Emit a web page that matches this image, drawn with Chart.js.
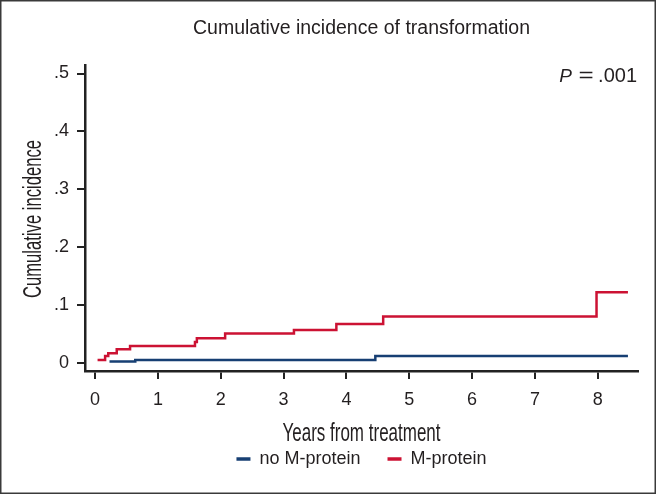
<!DOCTYPE html>
<html>
<head>
<meta charset="utf-8">
<script src="https://cdn.jsdelivr.net/npm/chart.js@4/dist/chart.umd.min.js"></script>
<style>
html,body{margin:0;padding:0;background:#fff;}
#wrap{width:656px;height:494px;position:relative;}
</style>
</head>
<body>
<div id="wrap"><canvas id="c" width="656" height="494"></canvas></div>
<script>
// ---- data ----
const titleText = "Cumulative incidence of transformation";
const xTitle = "Years from treatment";
const yTitle = "Cumulative incidence";
const pLabel = "P";
const pEquals = "=";
const pValue = ".001";
const xTicks = [0, 1, 2, 3, 4, 5, 6, 7, 8];
const yTicks = [0, 0.1, 0.2, 0.3, 0.4, 0.5];
const yTickLabels = ["0", ".1", ".2", ".3", ".4", ".5"];
const seriesNames = ["no M-protein", "M-protein"];
const noMTimes = [0.23, 0.64, 4.46, 8.48];
const noMValues = [0.0023, 0.0052, 0.012, 0.012];
const mTimes = [0.04, 0.16, 0.21, 0.345, 0.557, 1.59, 1.62, 2.07, 3.165, 3.84, 4.585, 7.98, 8.48];
const mValues = [0.0052, 0.012, 0.0167, 0.0236, 0.029, 0.036, 0.0425, 0.051, 0.057, 0.067, 0.080, 0.122, 0.122];

const BLUE = "#173f73";
const RED = "#cc1233";
const INK = "#231f20";
const SANS = "'Liberation Sans', Arial, Helvetica, sans-serif";

const toPts = (xs, ys) => xs.map((x, i) => ({x: x, y: ys[i]}));

function condensedText(ctx, text, x, y, size, sx, rot) {
  ctx.save();
  ctx.translate(x, y);
  if (rot) ctx.rotate(rot);
  ctx.scale(sx, 1);
  ctx.font = size + "px " + SANS;
  ctx.textAlign = "center";
  ctx.textBaseline = "alphabetic";
  ctx.fillStyle = INK;
  ctx.fillText(text, 0, 0);
  ctx.restore();
}

const decor = {
  id: 'decor',
  afterLayout(chart) {
    const ca = chart.chartArea;
    const cx = (ca.left + ca.right) / 2;
    const lg = chart.legend;
    if (lg) {
      const dx = cx - (lg.left + lg.right) / 2;
      lg.left += dx; lg.right += dx;
      lg.top = 459 - (27 + 9);
      lg.bottom = chart.height;
      lg.height = lg.bottom - lg.top;
    }
    const tt = chart.titleBlock;
    if (tt) {
      const dx = cx - (tt.left + tt.right) / 2;
      tt.left += dx; tt.right += dx;
    }
  },
  afterDraw(chart) {
    const ctx = chart.ctx;
    const ca = chart.chartArea;
    ctx.save();
    // figure frame
    ctx.strokeStyle = "#3a3a3a";
    ctx.lineWidth = 1.5;
    ctx.strokeRect(0.75, 0.75, chart.width - 1.5, chart.height - 1.5);
    // axis titles (condensed)
    condensedText(ctx, xTitle, (ca.left + ca.right) / 2, 441, 25, 0.68, 0);
    condensedText(ctx, yTitle, 41, 219, 25, 0.665, -Math.PI / 2);
    // P value
    ctx.fillStyle = INK;
    ctx.textBaseline = "alphabetic";
    ctx.textAlign = "right";
    ctx.font = "20px " + SANS;
    ctx.fillText(pValue, 637, 82);
    ctx.textAlign = "center";
    ctx.save();
    ctx.translate(586, 82);
    ctx.scale(1.3, 1);
    ctx.fillText(pEquals, 0, 0);
    ctx.restore();
    ctx.textAlign = "right";
    ctx.font = "italic 19px " + SANS;
    ctx.fillText(pLabel, 572, 82);
    ctx.restore();
  }
};

new Chart(document.getElementById('c'), {
  type: 'line',
  data: {
    datasets: [
      {label: seriesNames[0], data: toPts(noMTimes, noMValues), borderColor: BLUE, backgroundColor: BLUE, borderWidth: 2.5},
      {label: seriesNames[1], data: toPts(mTimes, mValues), borderColor: RED, backgroundColor: RED, borderWidth: 2.5}
    ]
  },
  options: {
    responsive: false,
    animation: false,
    devicePixelRatio: 1,
    layout: {padding: {left: 0, right: 18, top: 0, bottom: 0}},
    elements: {
      line: {stepped: true, borderWidth: 2.5, tension: 0, fill: false, borderCapStyle: 'butt', borderJoinStyle: 'miter'},
      point: {radius: 0, hoverRadius: 0}
    },
    plugins: {
      title: {
        display: true, text: titleText, color: INK,
        font: {family: SANS, size: 19.5, weight: 'normal', lineHeight: 1.2},
        padding: {top: 17, bottom: 25}
      },
      legend: {
        display: true, position: 'bottom', maxHeight: 30,
        labels: {
          usePointStyle: true, pointStyle: 'line', pointStyleWidth: 14,
          boxHeight: 18, padding: 27, color: INK,
          font: {family: SANS, size: 18},
          generateLabels: (chart) => chart.data.datasets.map((ds, i) => ({
            text: ds.label, fillStyle: ds.borderColor, strokeStyle: ds.borderColor,
            lineWidth: 3.5, pointStyle: 'line', hidden: false, datasetIndex: i, fontColor: INK
          }))
        }
      },
      tooltip: {enabled: false}
    },
    scales: {
      x: {
        type: 'linear', min: -0.16, max: 8.64,
        afterBuildTicks: s => { s.ticks = xTicks.map(v => ({value: v})); },
        afterFit: s => { s.height = 93; },
        ticks: {color: INK, font: {family: SANS, size: 18}, padding: 10, maxRotation: 0, autoSkip: false,
                callback: v => String(v)},
        grid: {drawOnChartArea: false, drawTicks: true, tickLength: 8, lineWidth: 2, tickWidth: 2, tickColor: '#222', color: '#222'},
        border: {display: true, color: '#222', width: 2.5},
        title: {display: false}
      },
      y: {
        type: 'linear', min: -0.014, max: 0.514,
        afterBuildTicks: s => { s.ticks = yTicks.map(v => ({value: v})); },
        afterFit: s => { s.width = 85; },
        ticks: {color: INK, font: {family: SANS, size: 18}, padding: 8, autoSkip: false,
                callback: (v) => { const i = yTicks.findIndex(t => Math.abs(t - v) < 1e-9); return i >= 0 ? yTickLabels[i] : ''; }},
        grid: {drawOnChartArea: false, drawTicks: true, tickLength: 8, lineWidth: 2, tickWidth: 2, tickColor: '#222', color: '#222'},
        border: {display: true, color: '#222', width: 2.5},
        title: {display: false}
      }
    }
  },
  plugins: [decor]
});
</script>
</body>
</html>
